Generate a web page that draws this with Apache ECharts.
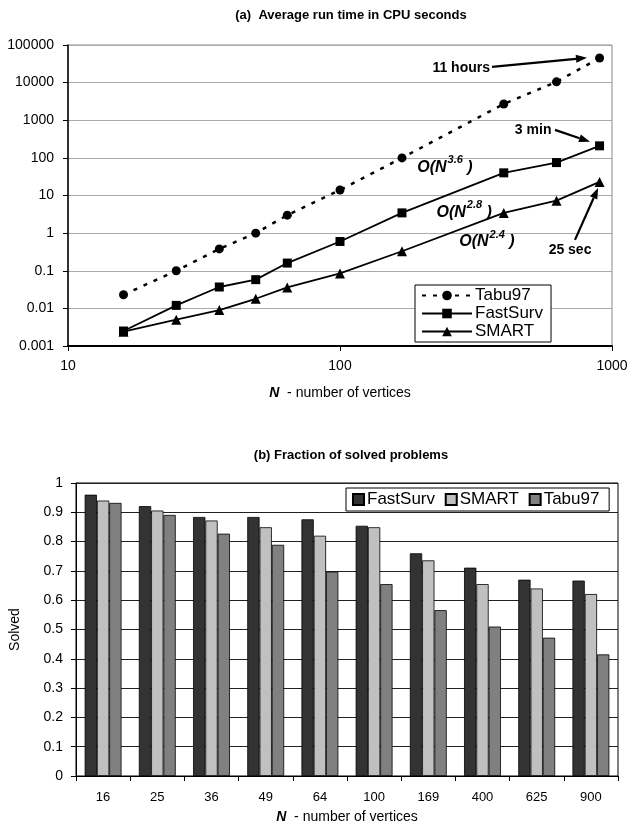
<!DOCTYPE html>
<html>
<head>
<meta charset="utf-8">
<script src="https://cdn.jsdelivr.net/npm/echarts@6/dist/echarts.min.js"></script>
<style>
html,body{margin:0;padding:0;background:#fff;}
#c{width:628px;height:835px;}
</style>
</head>
<body>
<div id="c"></div>
<script>
// ---- Data ----
const N = [16, 25, 36, 49, 64, 100, 169, 400, 625, 900];
const tabu97Time   = [0.023, 0.1, 0.38, 1.0, 3.0, 14, 100, 2700, 10500, 45000];
const fastSurvTime = [0.0025, 0.012, 0.037, 0.058, 0.16, 0.6, 3.45, 40, 75, 209];
const smartTime    = [0.0024, 0.005, 0.009, 0.018, 0.036, 0.085, 0.33, 3.45, 7.3, 23];

const categories     = ['16', '25', '36', '49', '64', '100', '169', '400', '625', '900'];
const fastSurvSolved = [0.96, 0.921, 0.884, 0.884, 0.876, 0.854, 0.76, 0.711, 0.67, 0.667];
const smartSolved    = [0.94, 0.906, 0.872, 0.849, 0.82, 0.849, 0.736, 0.655, 0.64, 0.621];
const tabu97Solved   = [0.932, 0.891, 0.827, 0.789, 0.697, 0.655, 0.566, 0.51, 0.472, 0.415];

// annotations in data coordinates of chart (a)
const annotTexts = [
  {text: '11 hours', at: [356, 24800], align: 'right', kind: 'plain'},
  {text: '3 min', at: [513, 556], align: 'center', kind: 'plain'},
  {text: '25 sec', at: [701, 0.357], align: 'center', kind: 'plain'},
  {text: '3.6', at: [243, 54], align: 'center', kind: 'order'},
  {text: '2.8', at: [286, 3.45], align: 'center', kind: 'order'},
  {text: '2.4', at: [347, 0.58], align: 'center', kind: 'order'}
];
const annotArrows = [
  {from: [362, 26300], to: [809, 45700]},
  {from: [617, 556], to: [830, 267]},
  {from: [731, 0.66], to: [889, 15.9]}
];

const FONT = '"Liberation Sans", Arial, sans-serif';
const chart = echarts.init(document.getElementById('c'));

function pairs(xs, ys) { return xs.map((x, i) => [x, ys[i]]); }
function fmtLog(v) { return String(Number(v.toPrecision(1))); }
const nameRich = {b: {fontFamily: FONT, fontSize: 14, fontWeight: 'bold', fontStyle: 'italic', color: '#000'}};

const option = {
  backgroundColor: '#fff',
  animation: false,
  textStyle: {fontFamily: FONT, color: '#000'},
  title: [
    {text: '(a)  Average run time in CPU seconds', left: 346, top: 4, textAlign: 'center',
     textStyle: {fontFamily: FONT, fontSize: 13, fontWeight: 'bold', color: '#000'}},
    {text: '(b) Fraction of solved problems', left: 346, top: 444, textAlign: 'center',
     textStyle: {fontFamily: FONT, fontSize: 13, fontWeight: 'bold', color: '#000'}}
  ],
  legend: [
    {
      data: ['Tabu97', 'FastSurv', 'SMART'],
      orient: 'vertical', left: 415, top: 285,
      itemWidth: 50, itemHeight: 12, itemGap: 1,
      padding: [2, 8, 2, 6],
      borderColor: '#000', borderWidth: 1, borderRadius: 0,
      backgroundColor: '#fff',
      textStyle: {fontFamily: FONT, fontSize: 17, color: '#000', padding: [0, 0, 0, -2]}
    },
    {
      data: ['FastSurv ', 'SMART ', 'Tabu97 '],
      icon: 'rect',
      orient: 'horizontal', left: 346, top: 488,
      itemWidth: 11, itemHeight: 11, itemGap: 5,
      padding: [3, 5, 3, 6],
      borderColor: '#000', borderWidth: 1, borderRadius: 0,
      backgroundColor: '#fff',
      textStyle: {fontFamily: FONT, fontSize: 17, color: '#000', padding: [0, 0, 0, -2]}
    }
  ],
  grid: [
    {left: 68, right: 16, top: 45, bottom: 489, show: true, borderColor: '#888', borderWidth: 1,
     outerBoundsMode: 'none', containLabel: false},
    {left: 76, right: 10, top: 483, bottom: 59, show: true, borderColor: '#000', borderWidth: 1,
     outerBoundsMode: 'none', containLabel: false}
  ],
  xAxis: [
    {
      gridIndex: 0, type: 'log', logBase: 10, min: 10, max: 1000,
      name: '{b|N}  - number of vertices', nameLocation: 'middle', nameGap: 40,
      nameTextStyle: {fontFamily: FONT, fontSize: 14, color: '#000', rich: nameRich},
      axisLine: {show: true, lineStyle: {color: '#000', width: 2}},
      axisTick: {show: true, length: 5, lineStyle: {color: '#000'}},
      minorTick: {show: false},
      splitLine: {show: false},
      axisLabel: {fontFamily: FONT, fontSize: 14, color: '#000', margin: 13, formatter: fmtLog}
    },
    {
      gridIndex: 1, type: 'category', data: categories,
      name: '{b|N}  - number of vertices', nameLocation: 'middle', nameGap: 34,
      nameTextStyle: {fontFamily: FONT, fontSize: 14, color: '#000', rich: nameRich},
      axisLine: {show: true, lineStyle: {color: '#000', width: 1}},
      axisTick: {show: true, length: 5, alignWithLabel: false, lineStyle: {color: '#000'}},
      splitLine: {show: false},
      axisLabel: {fontFamily: FONT, fontSize: 13, color: '#000', margin: 15}
    }
  ],
  yAxis: [
    {
      gridIndex: 0, type: 'log', logBase: 10, min: 0.001, max: 100000,
      name: 'Time [s]', nameLocation: 'middle', nameGap: 52,
      nameTextStyle: {fontFamily: FONT, fontSize: 14, color: '#000'},
      axisLine: {show: true, lineStyle: {color: '#000', width: 1.5}},
      axisTick: {show: true, length: 5, lineStyle: {color: '#000'}},
      minorTick: {show: false},
      splitLine: {show: true, lineStyle: {color: '#aaa', width: 1}},
      axisLabel: {fontFamily: FONT, fontSize: 14, color: '#000', margin: 14, formatter: fmtLog}
    },
    {
      gridIndex: 1, type: 'value', min: 0, max: 1, interval: 0.1,
      name: 'Solved', nameLocation: 'middle', nameGap: 54,
      nameTextStyle: {fontFamily: FONT, fontSize: 14, color: '#000'},
      axisLine: {show: true, lineStyle: {color: '#000', width: 1}},
      axisTick: {show: true, length: 5, lineStyle: {color: '#000'}},
      splitLine: {show: true, lineStyle: {color: '#222', width: 1}},
      axisLabel: {fontFamily: FONT, fontSize: 14, color: '#000', margin: 13,
        formatter: v => String(Math.round(v * 10) / 10)}
    }
  ],
  series: [
    {
      name: 'Tabu97', type: 'line', xAxisIndex: 0, yAxisIndex: 0,
      data: pairs(N, tabu97Time),
      symbol: 'circle', symbolSize: 9,
      lineStyle: {color: '#000', width: 2.5, type: [4, 7]},
      itemStyle: {color: '#000'}
    },
    {
      name: 'FastSurv', type: 'line', xAxisIndex: 0, yAxisIndex: 0,
      data: pairs(N, fastSurvTime),
      symbol: 'rect', symbolSize: 9,
      lineStyle: {color: '#000', width: 1.8},
      itemStyle: {color: '#000'}
    },
    {
      name: 'SMART', type: 'line', xAxisIndex: 0, yAxisIndex: 0,
      data: pairs(N, smartTime),
      symbol: 'triangle', symbolSize: 10,
      lineStyle: {color: '#000', width: 1.8},
      itemStyle: {color: '#000'}
    },
    {
      name: 'FastSurv ', type: 'bar', xAxisIndex: 1, yAxisIndex: 1,
      data: fastSurvSolved, barGap: '0%', barCategoryGap: '32%',
      itemStyle: {color: '#333333', borderColor: '#000', borderWidth: 0.8}
    },
    {
      name: 'SMART ', type: 'bar', xAxisIndex: 1, yAxisIndex: 1,
      data: smartSolved, barGap: '0%', barCategoryGap: '32%',
      itemStyle: {color: '#c0c0c0', borderColor: '#000', borderWidth: 0.8}
    },
    {
      name: 'Tabu97 ', type: 'bar', xAxisIndex: 1, yAxisIndex: 1,
      data: tabu97Solved, barGap: '0%', barCategoryGap: '32%',
      itemStyle: {color: '#808080', borderColor: '#000', borderWidth: 0.8}
    }
  ]
};
chart.setOption(option);

// ---- annotations placed through the axes of chart (a) ----
function px(pt) { return chart.convertToPixel({gridIndex: 0}, pt); }
const graphics = [];
annotTexts.forEach(a => {
  const p = px(a.at);
  if (a.kind === 'plain') {
    graphics.push({type: 'text', x: p[0], y: p[1], z: 100,
      style: {text: a.text, fill: '#000', align: a.align, verticalAlign: 'middle',
        font: 'bold 14px ' + FONT}});
  } else {
    graphics.push({type: 'text', x: p[0], y: p[1], z: 100,
      style: {text: '{o|O(N}{s|' + a.text + '}{o| )}', align: 'center', verticalAlign: 'middle',
        rich: {
          o: {fontFamily: FONT, fontSize: 16, fontWeight: 'bold', fontStyle: 'italic', fill: '#000', lineHeight: 18},
          s: {fontFamily: FONT, fontSize: 11, fontWeight: 'bold', fontStyle: 'italic', fill: '#000', padding: [0, 0, 15, 1]}
        }}});
  }
});
annotArrows.forEach(a => {
  const s = px(a.from), t = px(a.to);
  const dx = t[0] - s[0], dy = t[1] - s[1];
  const len = Math.sqrt(dx * dx + dy * dy);
  const ux = dx / len, uy = dy / len;
  const L = 11, W = 4;
  const bx = t[0] - ux * L, by = t[1] - uy * L;
  graphics.push({type: 'line', z: 100, shape: {x1: s[0], y1: s[1], x2: bx, y2: by},
    style: {stroke: '#000', lineWidth: 2.2}});
  graphics.push({type: 'polygon', z: 100,
    shape: {points: [[t[0], t[1]], [bx - uy * W, by + ux * W], [bx + uy * W, by - ux * W]]},
    style: {fill: '#000'}});
});
chart.setOption({graphic: graphics});
</script>
</body>
</html>
